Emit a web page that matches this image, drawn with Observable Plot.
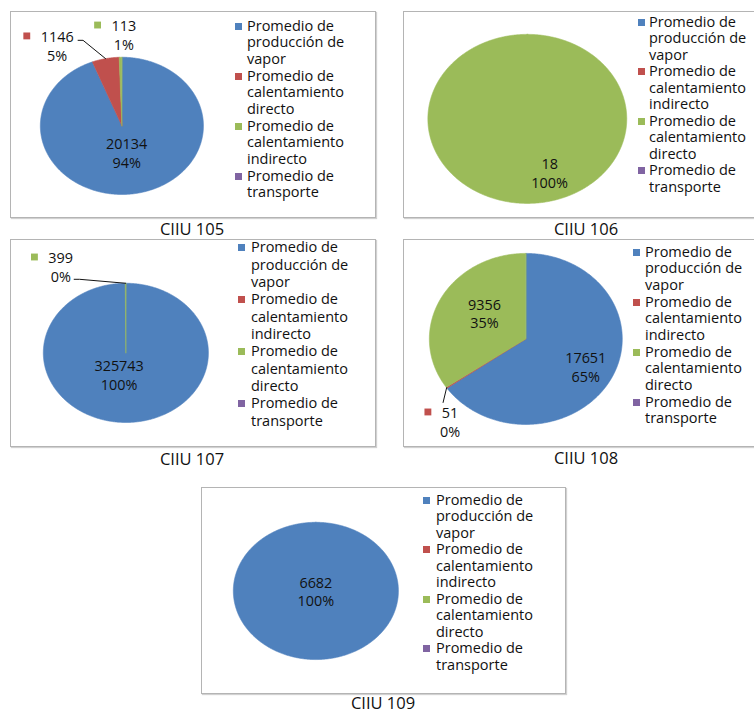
<!DOCTYPE html>
<html>
<head>
<meta charset="utf-8">
<script src="https://cdn.jsdelivr.net/npm/d3@7"></script>
<script src="https://cdn.jsdelivr.net/npm/@observablehq/plot@0.6"></script>
<style>
  body { margin: 0; background: #fff; font-family: "Open Sans", sans-serif; color: #111; }
  #page { position: relative; width: 754px; height: 713px; overflow: hidden; background: #fff; }
  .panel { position: absolute; box-sizing: border-box; border: 1px solid #b4b4b4;
           box-shadow: 1px 1px 1px rgba(0,0,0,0.18); background: #fff; }
  .panel svg { position: absolute; left: -1px; top: -1px; overflow: visible; }
  .legend-item { position: absolute; width: 112px; font-size: 14.5px; white-space: normal; }
  .key { position: absolute; width: 7px; height: 7px; }
  .caption { position: absolute; font-size: 16.5px; line-height: 18px; transform: translate(-50%, -50%); white-space: nowrap; }
</style>
</head>
<body>
<div id="page"></div>
<script>
// Energy-use categories (two legend orders appear across the sectors)
const VAPOR = "Promedio de producción de vapor";
const DIRECTO = "Promedio de calentamiento directo";
const INDIRECTO = "Promedio de calentamiento indirecto";
const TRANSPORTE = "Promedio de transporte";
const order105 = [VAPOR, DIRECTO, INDIRECTO, TRANSPORTE];
const orderOther = [VAPOR, INDIRECTO, DIRECTO, TRANSPORTE];

// Sectors and their average values per category
const sectors = ["CIIU 105", "CIIU 106", "CIIU 107", "CIIU 108", "CIIU 109"];
const vapor      = [20134, 0, 325743, 17651, 6682];
const directo    = [1146, 18, 399, 9356, 0];
const indirecto  = [113, 0, 0, 51, 0];
const transporte = [0, 0, 0, 0, 0];

const palette = ["#4F81BD", "#C0504D", "#9BBB59", "#8064A2"];

function valueOf(cat, i) {
  if (cat === VAPOR) return vapor[i];
  if (cat === DIRECTO) return directo[i];
  if (cat === INDIRECTO) return indirecto[i];
  return transporte[i];
}

// Panel layout: box [left, top, width, height], pie [cx, cy, rx, ry] in panel pixels,
// legend placement, caption centre, and label placement relative to each slice.
const layout = [
  { order: order105, box: [10, 11, 366, 207], pie: [112, 115, 82, 69],
    legend: { text: 237, key: 225, first: 15, line: 17.5, pitch: 50 }, caption: [192, 229],
    labels: [
      { cat: VAPOR, r: 0.39, turn: 2 },
      { cat: DIRECTO, r: 1.417, turn: -22.5, key: true, leader: [[26, -5], [21, -5]] },
      { cat: INDIRECTO, r: 1.333, turn: 2, key: true }
    ] },
  { order: orderOther, box: [403, 11, 360, 207], pie: [124.5, 108, 100, 85],
    legend: { text: 246, key: 235, first: 11, line: 17.5, pitch: 49.5 }, caption: [586, 229],
    labels: [ { cat: DIRECTO, r: 0.674, turn: -19.5 } ] },
  { order: orderOther, box: [10, 239, 366, 208], pie: [116, 114, 83, 70],
    legend: { text: 241, key: 228, first: 8, line: 17.5, pitch: 52 }, caption: [192, 459],
    labels: [
      { cat: VAPOR, r: 0.32, turn: 15 },
      { cat: DIRECTO, r: 1.472, turn: -32.2, key: true, leader: [[19, 13], [13.5, 13]] }
    ] },
  { order: orderOther, box: [403, 239, 360, 208], pie: [123, 100, 97, 86],
    legend: { text: 242, key: 230, first: 13, line: 17, pitch: 50 }, caption: [586, 458],
    labels: [
      { cat: VAPOR, r: 0.7, turn: 0 },
      { cat: INDIRECTO, r: 1.243, turn: -16, key: true, leader: [[-7, -19]] },
      { cat: DIRECTO, r: 0.524, turn: 7.5 }
    ] },
  { order: orderOther, box: [201, 487, 365, 207], pie: [115, 104, 83, 69],
    legend: { text: 235, key: 222, first: 13, line: 17, pitch: 49.5 }, caption: [383, 703],
    labels: [ { cat: VAPOR, r: 0, turn: 0 } ] }
];

const page = document.getElementById("page");
const FONT = 14.5, LINE = 1.3;
const deg = Math.PI / 180;

sectors.forEach((sector, i) => {
  const L = layout[i];
  const [bx, by, bw, bh] = L.box;
  const [cx, cy, rx, ry] = L.pie;

  const rows = L.order.map(cat => ({ cat, value: valueOf(cat, i) }));
  const total = d3.sum(rows, d => d.value);
  const arcs = d3.pie().sort(null).value(d => d.value)(rows);

  // Slice outlines as closed polygons in unit-pie coordinates
  const pts = [];
  for (const a of arcs) {
    if (a.data.value <= 0) continue;
    const span = a.endAngle - a.startAngle;
    const n = Math.max(2, Math.ceil(span / (0.5 * deg)));
    if (span < 2 * Math.PI - 1e-9) pts.push({ cat: a.data.cat, x: 0, y: 0 });
    for (let k = 0; k <= n; k++) {
      const t = a.startAngle + span * k / n;
      pts.push({ cat: a.data.cat, x: Math.sin(t), y: Math.cos(t) });
    }
  }

  // Data labels, key squares and leader lines
  const texts = [], keys = [], leaders = [];
  const lineGapPx = FONT * LINE;
  for (const lab of L.labels) {
    const a = arcs.find(d => d.data.cat === lab.cat);
    const mid = (a.startAngle + a.endAngle) / 2;
    const th = mid + lab.turn * deg;
    const ax = lab.r * Math.sin(th), ay = lab.r * Math.cos(th);
    const v = a.data.value;
    const pct = Math.round(v / total * 100);
    texts.push({ x: ax, y: ay, label: `${v}\n${pct}%` });
    if (lab.key) {
      const half = String(v).length * 0.572 * FONT / 2;
      keys.push({ cat: lab.cat, x: ax - (half + 14) / rx, y: ay + (lineGapPx / 2) / ry });
    }
    if (lab.leader) {
      leaders.push({ id: lab.cat, x: Math.sin(mid), y: Math.cos(mid) });
      for (const [dx, dy] of lab.leader) leaders.push({ id: lab.cat, x: ax + dx / rx, y: ay - dy / ry });
    }
  }

  const svg = Plot.plot({
    width: bw, height: bh, margin: 0,
    x: { domain: [-1, 1], range: [cx - rx, cx + rx], axis: null },
    y: { domain: [-1, 1], range: [cy + ry, cy - ry], axis: null },
    color: { domain: L.order, range: palette },
    style: { background: "transparent", fontFamily: "Open Sans, sans-serif", color: "#111", overflow: "visible" },
    marks: [
      Plot.line(pts, { x: "x", y: "y", z: "cat", fill: "cat", stroke: "cat", strokeWidth: 0.6, curve: "linear-closed" }),
      Plot.line(leaders, { x: "x", y: "y", z: "id", stroke: "#111", strokeWidth: 1 }),
      Plot.dot(keys, { x: "x", y: "y", fill: "cat", symbol: "square", r: 3.9, stroke: null }),
      Plot.text(texts, { x: "x", y: "y", text: "label", fontSize: FONT, lineHeight: LINE, textAnchor: "middle", lineAnchor: "middle", fill: "#111" })
    ]
  });

  const panel = document.createElement("div");
  panel.className = "panel";
  Object.assign(panel.style, { left: bx + "px", top: by + "px", width: bw + "px", height: bh + "px" });
  panel.appendChild(svg);

  // Legend: one entry per category in this chart's order; three wrapped lines fit one pitch
  const lg = L.legend;
  const lh = Math.min(lg.line, lg.pitch / 3);
  L.order.forEach((cat, k) => {
    const c = lg.first + k * lg.pitch;
    const item = document.createElement("div");
    item.className = "legend-item";
    Object.assign(item.style, { left: (lg.text - 1) + "px", top: (c - lh / 2 - 1) + "px", lineHeight: lh + "px" });
    item.textContent = cat;
    const key = document.createElement("div");
    key.className = "key";
    Object.assign(key.style, { left: (lg.key - 1) + "px", top: (c - 3.5 - 1) + "px", background: palette[k] });
    panel.appendChild(key);
    panel.appendChild(item);
  });
  page.appendChild(panel);

  const cap = document.createElement("div");
  cap.className = "caption";
  Object.assign(cap.style, { left: L.caption[0] + "px", top: L.caption[1] + "px" });
  cap.textContent = sector;
  page.appendChild(cap);
});
</script>
</body>
</html>
